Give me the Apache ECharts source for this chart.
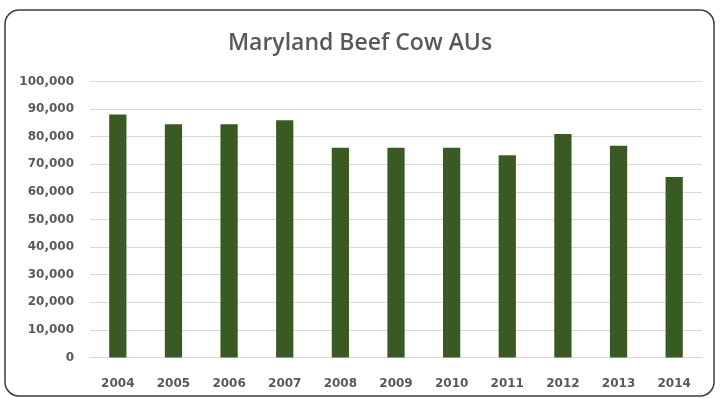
<!DOCTYPE html>
<html>
<head>
<meta charset="utf-8">
<script src="https://cdn.jsdelivr.net/npm/echarts@6/dist/echarts.min.js"></script>
<style>
  html, body { margin: 0; padding: 0; background: #ffffff; }
  #chart { width: 720px; height: 398px; }
</style>
</head>
<body>
<div id="chart"></div>
<script>
// Beef cow animal units in Maryland, by year
const years = ['2004', '2005', '2006', '2007', '2008', '2009', '2010', '2011', '2012', '2013', '2014'];
const beefCowAUs = [88000, 84500, 84500, 86000, 76000, 76000, 76000, 73300, 81000, 76700, 65400];

const chartTitle = 'Maryland Beef Cow AUs';
const yMin = 0;
const yMax = 100000;
const yStep = 10000;

const labelFont = 'DejaVu Sans';
const textGray = '#595959';
const gridGray = '#d9d9d9';
const barGreen = '#3a5a24';

const chart = echarts.init(document.getElementById('chart'), null, { renderer: 'canvas' });

chart.setOption({
  animation: false,
  backgroundColor: '#ffffff',
  title: {
    text: chartTitle,
    left: 'center',
    top: 27,
    textStyle: {
      fontFamily: 'Open Sans',
      fontWeight: 600,
      fontSize: 23,
      color: textGray
    }
  },
  grid: {
    left: 90,
    right: 18,
    top: 81.5,
    bottom: 40.5,
    containLabel: false
  },
  xAxis: {
    type: 'category',
    data: years,
    axisLine: { show: true, lineStyle: { color: gridGray, width: 1 } },
    axisTick: { show: false },
    axisLabel: {
      margin: 20,
      fontFamily: labelFont,
      fontWeight: 'bold',
      fontSize: 12,
      color: textGray
    }
  },
  yAxis: {
    type: 'value',
    min: yMin,
    max: yMax,
    interval: yStep,
    axisLine: { show: false },
    axisTick: { show: false },
    splitLine: { show: true, lineStyle: { color: gridGray, width: 1 } },
    axisLabel: {
      margin: 16,
      fontFamily: labelFont,
      fontWeight: 'bold',
      fontSize: 12,
      color: textGray,
      formatter: v => v.toLocaleString('en-US')
    }
  },
  series: [{
    type: 'bar',
    data: beefCowAUs,
    barWidth: '31%',
    itemStyle: { color: barGreen }
  }],
  graphic: [{
    type: 'rect',
    shape: { x: 5, y: 10, width: 709, height: 386, r: 14 },
    style: { fill: 'none', stroke: '#3c3c3c', lineWidth: 1.5 },
    silent: true,
    z: 100
  }]
});
</script>
</body>
</html>
